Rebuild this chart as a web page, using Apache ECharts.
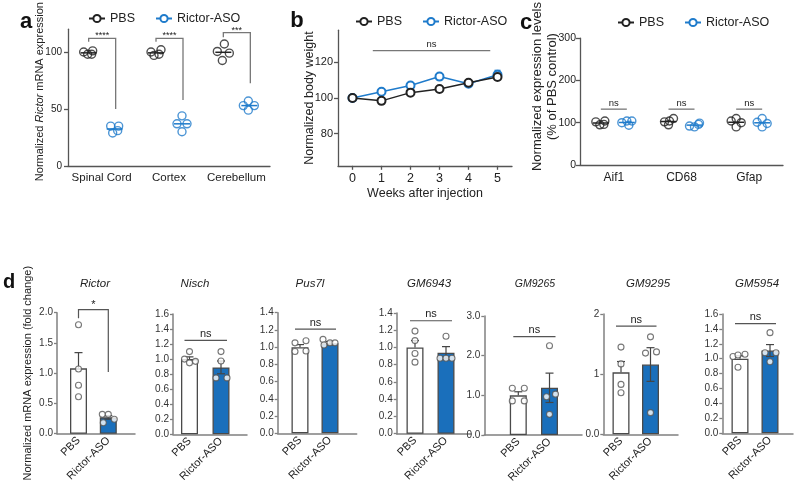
<!DOCTYPE html>
<html><head><meta charset="utf-8">
<script src="https://cdn.jsdelivr.net/npm/echarts@6/dist/echarts.min.js"></script>
<style>html,body{margin:0;padding:0;background:#fff}#c{width:800px;height:488px}</style>
</head><body><div id="c"></div>
<script>
// ---------- Panel a : Rictor mRNA by region ----------
const aCategories = ['Spinal Cord', 'Cortex', 'Cerebellum'];
const aPBS = [[100, 98, 98, 101], [100, 97, 98, 102], [107, 100.5, 99, 92.5]];
const aASO = [[35, 35, 29, 31], [44, 37, 37, 30], [57, 53, 53, 49]];
const aStars = ['****', '****', '***'];
const aBracketTop = [112, 112, 117];
const aBracketLeftEnd = [109, 109, 113];
const aBracketRightEnd = [50, 58, 72.5];
const aYTicks = [0, 50, 100];

// ---------- Panel b : body weight ----------
const bWeeks = [0, 1, 2, 3, 4, 5];
const bPBS = [100, 98.4, 103, 105, 108.5, 111.8];
const bPBSErr = [1.5, 0.7, 0.9, 0.7, 1.3, 1.5];
const bASO = [100, 103.5, 107, 112, 108, 113];
const bASOErr = [0.8, 0.8, 1.5, 0.8, 1.5, 2.5];
const bYTicks = [80, 100, 120];
const bNs = {level: 126.5, from: 0.7, to: 4.75};

// ---------- Panel c : glial markers ----------
const cCategories = ['Aif1', 'CD68', 'Gfap'];
const cPBS = [[102, 95, 104, 96], [102, 95, 110, 104], [110, 104, 100, 90]];
const cASO = [[100, 104, 104, 94], [92, 90, 96, 99], [110, 101, 98, 90]];
const cNsLevel = [132, 132, 132];
const cYTicks = [0, 100, 200, 300];

// ---------- Panel d : off-target genes ----------
const dGroups = ['PBS', 'Rictor-ASO'];
const dGenes = ['Rictor', 'Nisch', 'Pus7l', 'GM6943', 'GM9265', 'GM9295', 'GM5954'];
const dPBSPoints = [[1.80, 1.07, 0.80, 0.61], [1.10, 1.00, 0.97, 0.95], [1.05, 1.075, 0.95, 0.955], [1.19, 1.08, 0.93, 0.83], [1.18, 1.18, 0.86, 0.86], [1.45, 1.17, 0.83, 0.69], [1.03, 1.05, 1.06, 0.885]];
const dASOPoints = [[0.32, 0.32, 0.24, 0.18], [1.10, 0.975, 0.75, 0.75], [1.09, 1.025, 1.05, 1.05], [1.13, 0.875, 0.875, 0.875], [2.25, 0.965, 1.03, 0.52], [1.62, 1.35, 1.37, 0.36], [1.35, 1.08, 1.08, 0.96]];
const dPBSMean = [1.08, 1.0, 1.0, 1.0, 1.0, 1.03, 1.0];
const dPBSSem = [0.26, 0.03, 0.03, 0.08, 0.09, 0.18, 0.04];
const dASOMean = [0.27, 0.89, 1.045, 0.94, 1.19, 1.16, 1.11];
const dASOSem = [0.03, 0.085, 0.02, 0.07, 0.37, 0.28, 0.08];
const dSig = ['*', 'ns', 'ns', 'ns', 'ns', 'ns', 'ns'];
const dSigLevel = [2.05, 1.25, 1.21, 1.31, 2.48, 1.80, 1.47];
const dRictorBracketEnds = [1.91, 1.02];
const dYTickLabels = [
  ['0.0', '0.5', '1.0', '1.5', '2.0'],
  ['0.0', '0.2', '0.4', '0.6', '0.8', '1.0', '1.2', '1.4', '1.6'],
  ['0.0', '0.2', '0.4', '0.6', '0.8', '1.0', '1.2', '1.4'],
  ['0.0', '0.2', '0.4', '0.6', '0.8', '1.0', '1.2', '1.4'],
  ['0.0', '1.0', '2.0', '3.0'],
  ['0.0', '1', '2'],
  ['0.0', '0.2', '0.4', '0.6', '0.8', '1.0', '1.2', '1.4', '1.6']
];
const dYName = 'Normalized mRNA expression (fold change)';

// ---------- layout & style (pixels) ----------
const FONT = "'Liberation Sans', Arial, Helvetica, sans-serif";
const INK = '#222', BLUE = '#1f7bcb', BARBLUE = '#1a6fbb', AX = '#555', DAX = '#808080', TXT = '#222', BRK = '#777';
const aJitter = [[-5, -1, 3, 4], [-5, -2, 3, 5], [1, -6, 6, -1]];
const aJitterASO = [[-4, 4, -2, 3], [0, -5, 5, 0], [-1, -6, 5, -1]];
const cJitter = [[-5, -1, 4, 3], [-4, 0, 5, 1], [0, -5, 5, 0]];
const cJitterASO = [[-5, 0, 5, 2], [-5, 0, 4, 5], [0, -5, 5, 0]];
const dJitterPBS = [[0, 0, 0, 0], [0, -5, 6, 0], [-5, 6, -5, 6], [0, 0, 0, 0], [-6, 6, -6, 6], [0, 0, 0, 0], [-7, -2, 5, -2]];
const dJitterASO = [[-6, 0, 6, -5], [0, 0, -5, 6], [-7, -6, 0, 5], [0, -6, 0, 6], [0, -3, 6, 0], [0, -5, 6, 0], [0, -5, 6, 0]];
const dLayout = [
  {left: 57, top: 312.7, width: 78, height: 121, x0: 78.5, x1: 108.3},
  {left: 173, top: 314, width: 74, height: 120.3, x0: 189.5, x1: 221},
  {left: 277.7, top: 312.7, width: 79, height: 120.6, x0: 300, x1: 330},
  {left: 396.7, top: 313, width: 74.3, height: 120.7, x0: 415, x1: 446},
  {left: 484.3, top: 316, width: 97.7, height: 119, x0: 518.3, x1: 549.5},
  {left: 603.3, top: 314, width: 74.7, height: 120.3, x0: 621, x1: 650.5},
  {left: 722.3, top: 314, width: 70.7, height: 119.3, x0: 740, x1: 770}
];
const dTitleX = [95, 195, 310, 429, 535, 648, 757];

const grids = [], xAxes = [], yAxes = [], series = [], graphics = [];
function addGrid(g) { grids.push(g); return grids.length - 1; }
function seg(x1, y1, x2, y2, c, w) { return {type: 'line', shape: {x1, y1, x2, y2}, style: {stroke: c, lineWidth: w}}; }
function poly(points, c, w) { return {type: 'polyline', shape: {points}, style: {stroke: c, lineWidth: w, fill: null}}; }
function label(x, y, text, size, c) { return {type: 'text', x, y, style: {text, fontSize: size, fontFamily: FONT, fill: c, align: 'center', verticalAlign: 'bottom'}}; }
function overlay(gi, anchor, z, draw) {
  series.push({type: 'custom', xAxisIndex: gi, yAxisIndex: gi, data: [anchor], silent: true, z, clip: false,
    renderItem: (p, api) => ({type: 'group', children: draw(api)})});
}
function mean(a) { return a.reduce((s, v) => s + v, 0) / a.length; }
const axLine = (c, w) => ({show: true, onZero: false, lineStyle: {color: c, width: w}});
const txt = (s, extra) => Object.assign({fontSize: s, color: TXT, fontFamily: FONT}, extra || {});

// ===== Panel b (first so the legends take the line icons) =====
const gB = addGrid({left: 338, top: 30.2, width: 174, height: 135.6});
xAxes.push({gridIndex: gB, type: 'value', min: -0.5, max: 5.5, axisLine: axLine(AX, 1.3),
  axisTick: {show: true, length: 4, customValues: bWeeks, lineStyle: {color: AX, width: 1.3}},
  axisLabel: Object.assign(txt(12.5), {customValues: bWeeks, margin: 6}), splitLine: {show: false},
  name: 'Weeks after injection', nameLocation: 'middle', nameGap: 21, nameMoveOverlap: false, nameTextStyle: txt(12.5)});
yAxes.push({gridIndex: gB, type: 'value', min: 62, max: 138, axisLine: axLine(AX, 1.3),
  axisTick: {show: true, length: 4, customValues: bYTicks, lineStyle: {color: AX, width: 1.3}},
  axisLabel: Object.assign(txt(11), {customValues: bYTicks, margin: 5}), splitLine: {show: false},
  name: 'Normalized body weight', nameLocation: 'middle', nameGap: 22, nameMoveOverlap: false, nameTextStyle: txt(12.5)});
series.push({name: 'PBS', type: 'line', xAxisIndex: gB, yAxisIndex: gB, data: bWeeks.map((w, i) => [w, bPBS[i]]),
  symbol: 'emptyCircle', symbolSize: 8, color: INK, lineStyle: {color: INK, width: 1.5}, itemStyle: {color: INK, borderWidth: 1.5}, z: 5});
series.push({name: 'Rictor-ASO', type: 'line', xAxisIndex: gB, yAxisIndex: gB, data: bWeeks.map((w, i) => [w, bASO[i]]),
  symbol: 'emptyCircle', symbolSize: 8, color: BLUE, lineStyle: {color: BLUE, width: 1.5}, itemStyle: {color: BLUE, borderWidth: 1.5}, z: 4});
overlay(gB, [0, 100], 3, api => {
  const out = [];
  bWeeks.forEach((w, i) => {
    [[bPBS, bPBSErr, INK], [bASO, bASOErr, BLUE]].forEach(([m, e, c]) => {
      const t = api.coord([w, m[i] + e[i]]), b = api.coord([w, m[i] - e[i]]);
      out.push(seg(t[0], t[1], b[0], b[1], c, 1.3), seg(t[0] - 3, t[1], t[0] + 3, t[1], c, 1.3), seg(b[0] - 3, b[1], b[0] + 3, b[1], c, 1.3));
    });
  });
  const l = api.coord([bNs.from, bNs.level]), r = api.coord([bNs.to, bNs.level]);
  out.push(seg(l[0], l[1], r[0], r[1], BRK, 1.3), label((l[0] + r[0]) / 2, l[1] - 1, 'ns', 9.5, TXT));
  return out;
});

// ===== Dot-plot helper for panels a and c =====
function dotPanel(gi, cats, pbs, aso, jp, ja, color2) {
  [[pbs, jp, -13, INK, 'pbs'], [aso, ja, 13, color2, 'aso']].forEach(([g, jit, side, col, nm]) => {
    const data = [];
    g.forEach((vals, i) => vals.forEach((v, j) => data.push({value: [i, v], symbolOffset: [side + jit[i][j], 0]})));
    series.push({name: 'dots-' + gi + nm, type: 'scatter', xAxisIndex: gi, yAxisIndex: gi, data, symbol: 'circle', symbolSize: 8,
      itemStyle: {color: 'rgba(255,255,255,0)', borderColor: col, borderWidth: 1.4}, z: 5});
  });
}

// ===== Panel a =====
const gA = addGrid({left: 68, top: 29.2, width: 202, height: 136.8});
xAxes.push({gridIndex: gA, type: 'category', data: aCategories, axisLine: axLine(AX, 1.3),
  axisTick: {alignWithLabel: true, length: 4, lineStyle: {color: AX, width: 1.3}},
  axisLabel: Object.assign(txt(11.5), {margin: 6, interval: 0})});
yAxes.push({gridIndex: gA, type: 'value', min: 0, max: 120, axisLine: axLine(AX, 1.3),
  axisTick: {show: true, length: 4, customValues: aYTicks, lineStyle: {color: AX, width: 1.3}},
  axisLabel: Object.assign(txt(10), {customValues: aYTicks, margin: 6}), splitLine: {show: false},
  name: '{n|Normalized }{i|Rictor}{n| mRNA expression}', nameLocation: 'middle', nameGap: 23, nameMoveOverlap: false,
  nameTextStyle: {padding: [0, 0, 0, 12], rich: {n: txt(11), i: txt(11, {fontStyle: 'italic'})}}});
dotPanel(gA, aCategories, aPBS, aASO, aJitter, aJitterASO, BLUE);
overlay(gA, [0, 50], 6, api => {
  const out = [];
  aCategories.forEach((c, i) => {
    [[aPBS, -13, INK], [aASO, 13, BLUE]].forEach(([g, dx, col]) => {
      const p = api.coord([i, mean(g[i])]);
      out.push(seg(p[0] + dx - 8, p[1], p[0] + dx + 8, p[1], col, 1.5));
    });
    const t = api.coord([i, aBracketTop[i]]), le = api.coord([i, aBracketLeftEnd[i]]), re = api.coord([i, aBracketRightEnd[i]]);
    const xl = t[0] - 13, xr = t[0] + 14;
    out.push(poly([[xl, le[1]], [xl, t[1]], [xr, t[1]], [xr, re[1]]], BRK, 1.3));
    out.push(label((xl + xr) / 2, t[1] + 2, aStars[i], 9, TXT));
  });
  return out;
});

// ===== Panel c =====
const gC = addGrid({left: 580, top: 30.7, width: 203, height: 134.3});
xAxes.push({gridIndex: gC, type: 'category', data: cCategories, axisLine: axLine(AX, 1.3),
  axisTick: {alignWithLabel: true, length: 4, lineStyle: {color: AX, width: 1.3}},
  axisLabel: Object.assign(txt(12), {margin: 7, interval: 0})});
yAxes.push({gridIndex: gC, type: 'value', min: 0, max: 300, axisLine: axLine(AX, 1.3),
  axisTick: {show: true, length: 4, customValues: cYTicks, lineStyle: {color: AX, width: 1.3}},
  axisLabel: Object.assign(txt(10.5), {customValues: cYTicks, margin: 4}), splitLine: {show: false},
  name: 'Normalized expression levels\n(% of PBS control)', nameLocation: 'middle', nameGap: 20, nameMoveOverlap: false,
  nameTextStyle: txt(13, {lineHeight: 15, padding: [0, 0, 0, 30]})});
dotPanel(gC, cCategories, cPBS, cASO, cJitter, cJitterASO, BLUE);
overlay(gC, [0, 100], 6, api => {
  const out = [];
  cCategories.forEach((c, i) => {
    [[cPBS, -13, INK], [cASO, 13, BLUE]].forEach(([g, dx, col]) => {
      const p = api.coord([i, mean(g[i])]);
      out.push(seg(p[0] + dx - 8, p[1], p[0] + dx + 8, p[1], col, 1.5));
    });
    const t = api.coord([i, cNsLevel[i]]);
    out.push(seg(t[0] - 13, t[1], t[0] + 13, t[1], BRK, 1.3), label(t[0], t[1] - 1, 'ns', 9.5, TXT));
  });
  return out;
});

// ===== Panel d =====
dGenes.forEach((gene, k) => {
  const L = dLayout[k];
  const gi = addGrid({left: L.left, top: L.top, width: L.width, height: L.height});
  const sp = L.x1 - L.x0;
  const labels = dYTickLabels[k];
  const ticks = labels.map(parseFloat);
  xAxes.push({gridIndex: gi, type: 'value', min: (L.left - L.x0) / sp, max: (L.left + L.width - L.x0) / sp,
    axisLine: axLine(DAX, 1.5), axisTick: {show: false}, splitLine: {show: false},
    axisLabel: Object.assign(txt(11), {customValues: [0, 1], formatter: v => dGroups[Math.round(v)], rotate: 45, margin: 5})});
  const yAx = {gridIndex: gi, type: 'value', min: 0, max: ticks[ticks.length - 1], axisLine: axLine(DAX, 1.5),
    axisTick: {show: true, length: 3, customValues: ticks, lineStyle: {color: DAX, width: 1.3}}, splitLine: {show: false},
    axisLabel: Object.assign(txt(10, {color: '#333'}), {customValues: ticks, margin: 4,
      formatter: v => { let b = 0; ticks.forEach((t, j) => { if (Math.abs(t - v) < Math.abs(ticks[b] - v)) b = j; }); return labels[b]; }})};
  if (k === 0) Object.assign(yAx, {name: dYName, nameLocation: 'middle', nameGap: 24, nameMoveOverlap: false, nameTextStyle: txt(11)});
  yAxes.push(yAx);
  series.push({type: 'bar', xAxisIndex: gi, yAxisIndex: gi, barWidth: 17, z: 2,
    data: [{value: [0, dPBSMean[k]], itemStyle: {color: '#fff'}}, {value: [1, dASOMean[k]], itemStyle: {color: BARBLUE}}],
    itemStyle: {borderColor: '#4a4a4a', borderWidth: 1.3}});
  [[dPBSPoints[k], dJitterPBS[k], 0], [dASOPoints[k], dJitterASO[k], 1]].forEach(([pts, jit, x]) => {
    series.push({type: 'scatter', xAxisIndex: gi, yAxisIndex: gi, symbol: 'circle', symbolSize: 6, z: 5,
      data: pts.map((v, j) => ({value: [x, v], symbolOffset: [jit[j], 0]})),
      itemStyle: {color: '#fff', borderColor: '#555', borderWidth: 1.1}});
  });
  overlay(gi, [0, 0.5], 3, api => {
    const out = [];
    [[dPBSMean[k], dPBSSem[k], 0, false], [dASOMean[k], dASOSem[k], 1, true]].forEach(([m, e, x, both]) => {
      const t = api.coord([x, m + e]), b = api.coord([x, both ? m - e : m]);
      out.push(seg(t[0], t[1], b[0], b[1], '#444', 1.2), seg(t[0] - 4, t[1], t[0] + 4, t[1], '#444', 1.2));
      if (both) out.push(seg(b[0] - 4, b[1], b[0] + 4, b[1], '#444', 1.2));
    });
    const l = api.coord([0, dSigLevel[k]]), r = api.coord([1, dSigLevel[k]]);
    if (dSig[k] === '*') {
      const le = api.coord([0, dRictorBracketEnds[0]]), re = api.coord([1, dRictorBracketEnds[1]]);
      out.push(poly([[l[0], le[1]], [l[0], l[1]], [r[0], r[1]], [r[0], re[1]]], '#555', 1.2));
      out.push(label((l[0] + r[0]) / 2, l[1] + 1, '*', 11, TXT));
    } else {
      out.push(seg(l[0] - 5, l[1], r[0] + 6, r[1], '#555', 1.2));
      out.push(label((l[0] + r[0]) / 2 + 0.5, l[1] - 1, 'ns', 11, TXT));
    }
    return out;
  });
  graphics.push({type: 'text', x: dTitleX[k], y: 284, style: {text: gene, fontSize: gene === 'GM9265' ? 10.5 : 11.5, fontStyle: 'italic',
    fontFamily: FONT, fill: TXT, align: 'center', verticalAlign: 'middle'}});
});

// ===== Panel letters =====
[['a', 26, 22], ['b', 297, 21], ['c', 526, 23], ['d', 9, 282]].forEach(([t, x, y]) => {
  graphics.push({type: 'text', x, y, style: {text: t, fontSize: t === 'd' ? 20 : 22, fontWeight: 'bold', fontFamily: FONT, fill: '#111', align: 'center', verticalAlign: 'middle'}});
});

const legendBase = {data: ['PBS', 'Rictor-ASO'], itemWidth: 16, itemHeight: 9, itemGap: 20, selectedMode: false, padding: 0,
  textStyle: txt(12.5)};
const legends = [
  Object.assign({left: 88, top: 12}, legendBase),
  Object.assign({left: 355, top: 15}, legendBase),
  Object.assign({left: 617, top: 16}, legendBase)
];

const chart = echarts.init(document.getElementById('c'), null, {renderer: 'canvas', width: 800, height: 488});
chart.setOption({animation: false, backgroundColor: '#fff', grid: grids, xAxis: xAxes, yAxis: yAxes, series, legend: legends, graphic: graphics});
</script></body></html>
